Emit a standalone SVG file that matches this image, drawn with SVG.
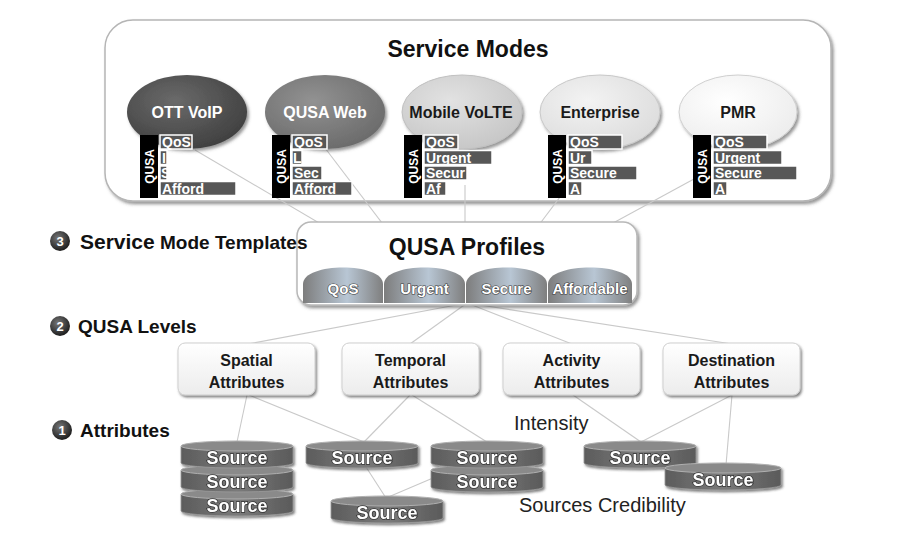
<svg xmlns="http://www.w3.org/2000/svg" width="906" height="560" viewBox="0 0 906 560">
<defs>
  <filter id="sh" x="-10%" y="-10%" width="125%" height="135%">
    <feDropShadow dx="2" dy="2.5" stdDeviation="1.5" flood-color="#444" flood-opacity="0.55"/>
  </filter>
  <filter id="shs" x="-10%" y="-20%" width="125%" height="150%">
    <feDropShadow dx="1.5" dy="2" stdDeviation="1.2" flood-color="#333" flood-opacity="0.6"/>
  </filter>
  <radialGradient id="e1" cx="40%" cy="35%" r="70%"><stop offset="0" stop-color="#6a6a6a"/><stop offset="1" stop-color="#3f3f3f"/></radialGradient>
  <radialGradient id="e2" cx="40%" cy="35%" r="70%"><stop offset="0" stop-color="#929292"/><stop offset="1" stop-color="#6a6a6a"/></radialGradient>
  <radialGradient id="e3" cx="40%" cy="35%" r="70%"><stop offset="0" stop-color="#e2e2e2"/><stop offset="1" stop-color="#c6c6c6"/></radialGradient>
  <radialGradient id="e4" cx="40%" cy="35%" r="70%"><stop offset="0" stop-color="#f3f3f3"/><stop offset="1" stop-color="#dcdcdc"/></radialGradient>
  <radialGradient id="e5" cx="40%" cy="35%" r="70%"><stop offset="0" stop-color="#ffffff"/><stop offset="1" stop-color="#ececec"/></radialGradient>
  <linearGradient id="tab" x1="0" y1="0" x2="1" y2="0"><stop offset="0" stop-color="#7d7d7d"/><stop offset="0.55" stop-color="#b8c6d4"/><stop offset="1" stop-color="#7f7f7f"/></linearGradient>
  <linearGradient id="attr" x1="0" y1="0" x2="0" y2="1"><stop offset="0" stop-color="#ffffff"/><stop offset="1" stop-color="#ececec"/></linearGradient>
  <linearGradient id="disk" x1="0" y1="0" x2="1" y2="0"><stop offset="0" stop-color="#5c5c5c"/><stop offset="0.5" stop-color="#7a7a7a"/><stop offset="1" stop-color="#5a5a5a"/></linearGradient>
  <radialGradient id="ball" cx="40%" cy="35%" r="65%"><stop offset="0" stop-color="#777"/><stop offset="1" stop-color="#1e1e1e"/></radialGradient>
  <g id="cyl">
    <path d="M0,5 V22 A56,5 0 0 0 112,22 V5 Z" fill="url(#disk)" stroke="#9a9a9a" stroke-width="0.8"/>
    <ellipse cx="56" cy="5" rx="56" ry="5" fill="#8a8a8a" stroke="#b0b0b0" stroke-width="1"/>
  </g>
  <g id="cylw">
    <path d="M0,5 V22 A58,5 0 0 0 116,22 V5 Z" fill="url(#disk)" stroke="#9a9a9a" stroke-width="0.8"/>
    <ellipse cx="58" cy="5" rx="58" ry="5" fill="#8a8a8a" stroke="#b0b0b0" stroke-width="1"/>
  </g>
</defs>
<style>
  text { font-family: "Liberation Sans", Arial, sans-serif; }
  .title { font-size: 23px; font-weight: bold; fill: #111; text-anchor: middle; }
  .ml { font-size: 16px; font-weight: bold; text-anchor: middle; }
  .mlw { fill: #fff; }
  .mld { fill: #1a1a1a; }
  .bar { fill: #575757; stroke: #fff; stroke-width: 1.5; }
  .bt { font-size: 14px; font-weight: bold; fill: #fff; }
  .qusa { font-size: 12px; font-weight: bold; fill: #fff; text-anchor: middle; }
  .tabt { font-size: 15px; font-weight: bold; fill: #fff; stroke: #3c3c3c; stroke-width: 1.2; paint-order: stroke; text-anchor: middle; }
  .at { font-size: 16px; font-weight: bold; fill: #1a1a1a; text-anchor: middle; }
  .src { font-size: 18px; font-weight: bold; fill: #fff; stroke: #333; stroke-width: 1.5; paint-order: stroke; text-anchor: middle; }
  .lvl { font-size: 19px; font-weight: bold; fill: #111; }
  .num { font-size: 13px; font-weight: bold; fill: #fff; text-anchor: middle; }
  .plain { font-size: 20px; fill: #222; }
  .cn line { stroke: #c9c9c9; stroke-width: 1.1; }
</style>
<rect width="906" height="560" fill="#fff"/>

<!-- Service Modes container -->
<g id="service-modes">
  <rect x="105" y="20" width="726" height="181" rx="28" fill="#fff" stroke="#b5b5b5" stroke-width="1.5" filter="url(#sh)"/>
  <text x="468" y="57" class="title">Service Modes</text>
</g>

<!-- connectors -->
<g id="connectors" class="cn">
  <line x1="195" y1="150" x2="433" y2="290"/>
  <line x1="325" y1="148" x2="433" y2="290"/>
  <line x1="465" y1="185" x2="465" y2="290"/>
  <line x1="560" y1="197" x2="490" y2="290"/>
  <line x1="705" y1="173" x2="490" y2="290"/>
  <line x1="467" y1="303" x2="248" y2="344"/>
  <line x1="467" y1="303" x2="410" y2="344"/>
  <line x1="467" y1="303" x2="572" y2="344"/>
  <line x1="467" y1="303" x2="732" y2="344"/>
  <line x1="247" y1="395" x2="237" y2="442"/>
  <line x1="249" y1="395" x2="364" y2="442"/>
  <line x1="410" y1="395" x2="364" y2="442"/>
  <line x1="412" y1="395" x2="487" y2="442"/>
  <line x1="573" y1="395" x2="641" y2="442"/>
  <line x1="732" y1="395" x2="641" y2="442"/>
  <line x1="732" y1="395" x2="726" y2="465"/>
  <line x1="366" y1="467" x2="386" y2="498"/>
  <line x1="433" y1="478" x2="386" y2="498"/>
</g>

<!-- Mode nodes -->
<g id="mode-ott-voip">
  <ellipse cx="187" cy="112" rx="60" ry="37" fill="url(#e1)" filter="url(#sh)"/>
  <text x="187" y="118" class="ml mlw">OTT VoIP</text>
  <rect x="140" y="135" width="18" height="63" fill="#000"/>
  <text transform="translate(153.5,166.5) rotate(-90)" class="qusa">QUSA</text>
  <rect x="160" y="135" width="32" height="14" class="bar"/><text x="162" y="147" class="bt">QoS</text>
  <rect x="160" y="150.5" width="7" height="14" class="bar"/><text x="162" y="162.5" class="bt">I</text>
  <rect x="160" y="166" width="7" height="14" class="bar"/><text x="161" y="178" class="bt">S</text>
  <rect x="160" y="181.5" width="76" height="14" class="bar"/><text x="162" y="193.5" class="bt">Afford</text>
</g>
<g id="mode-qusa-web">
  <ellipse cx="325" cy="112" rx="60" ry="37" fill="url(#e2)" filter="url(#sh)"/>
  <text x="325" y="118" class="ml mlw">QUSA Web</text>
  <rect x="272" y="135" width="18" height="63" fill="#000"/>
  <text transform="translate(285.5,166.5) rotate(-90)" class="qusa">QUSA</text>
  <rect x="292" y="135" width="35" height="14" class="bar"/><text x="294" y="147" class="bt">QoS</text>
  <rect x="292" y="150.5" width="10" height="14" class="bar"/><text x="293" y="162.5" class="bt">L</text>
  <rect x="292" y="166" width="30" height="14" class="bar"/><text x="294" y="178" class="bt">Sec</text>
  <rect x="292" y="181.5" width="60" height="14" class="bar"/><text x="294" y="193.5" class="bt">Afford</text>
</g>
<g id="mode-mobile-volte">
  <ellipse cx="462" cy="112" rx="60" ry="37" fill="url(#e3)" stroke="#c0c0c0" stroke-width="1" filter="url(#sh)"/>
  <text x="461" y="118" class="ml mld">Mobile VoLTE</text>
  <rect x="404" y="135" width="18" height="63" fill="#000"/>
  <text transform="translate(417.5,166.5) rotate(-90)" class="qusa">QUSA</text>
  <rect x="424" y="135" width="34" height="14" class="bar"/><text x="426" y="147" class="bt">QoS</text>
  <rect x="424" y="150.5" width="68" height="14" class="bar"/><text x="426" y="162.5" class="bt">Urgent</text>
  <rect x="424" y="166" width="43" height="14" class="bar"/><text x="426" y="178" class="bt">Secur</text>
  <rect x="424" y="181.5" width="22" height="14" class="bar"/><text x="426" y="193.5" class="bt">Af</text>
</g>
<g id="mode-enterprise">
  <ellipse cx="600" cy="112" rx="60" ry="37" fill="url(#e4)" stroke="#c8c8c8" stroke-width="1" filter="url(#sh)"/>
  <text x="600" y="118" class="ml mld">Enterprise</text>
  <rect x="548" y="135" width="18" height="63" fill="#000"/>
  <text transform="translate(561.5,166.5) rotate(-90)" class="qusa">QUSA</text>
  <rect x="568" y="135" width="54" height="14" class="bar"/><text x="570" y="147" class="bt">QoS</text>
  <rect x="568" y="150.5" width="24" height="14" class="bar"/><text x="570" y="162.5" class="bt">Ur</text>
  <rect x="568" y="166" width="69" height="14" class="bar"/><text x="570" y="178" class="bt">Secure</text>
  <rect x="568" y="181.5" width="14" height="14" class="bar"/><text x="570" y="193.5" class="bt">A</text>
</g>
<g id="mode-pmr">
  <ellipse cx="738" cy="112" rx="59" ry="37" fill="url(#e5)" stroke="#cfcfcf" stroke-width="1" filter="url(#sh)"/>
  <text x="738" y="118" class="ml mld">PMR</text>
  <rect x="693" y="135" width="18" height="63" fill="#000"/>
  <text transform="translate(706.5,166.5) rotate(-90)" class="qusa">QUSA</text>
  <rect x="713" y="135" width="54" height="14" class="bar"/><text x="715" y="147" class="bt">QoS</text>
  <rect x="713" y="150.5" width="69" height="14" class="bar"/><text x="715" y="162.5" class="bt">Urgent</text>
  <rect x="713" y="166" width="84" height="14" class="bar"/><text x="715" y="178" class="bt">Secure</text>
  <rect x="713" y="181.5" width="14" height="14" class="bar"/><text x="715" y="193.5" class="bt">A</text>
</g>

<!-- QUSA Profiles -->
<g id="qusa-profiles">
  <rect x="297" y="222" width="340" height="83" rx="14" fill="#fff" stroke="#b8b8b8" stroke-width="1.5" filter="url(#sh)"/>
  <text x="467" y="255" class="title">QUSA Profiles</text>
  <path d="M303,303 V284 C303,262 383,262 383,284 V303 Z" fill="url(#tab)"/>
  <path d="M384,303 V284 C384,262 465,262 465,284 V303 Z" fill="url(#tab)"/>
  <path d="M466,303 V284 C466,262 547,262 547,284 V303 Z" fill="url(#tab)"/>
  <path d="M548,303 V284 C548,262 632,262 632,284 V303 Z" fill="url(#tab)"/>
  <text x="343" y="294" class="tabt">QoS</text>
  <text x="424.5" y="294" class="tabt">Urgent</text>
  <text x="506.5" y="294" class="tabt">Secure</text>
  <text x="590" y="294" class="tabt">Affordable</text>
</g>

<!-- Level labels -->
<g id="label-3">
  <circle cx="60" cy="241" r="10" fill="url(#ball)"/>
  <text x="60" y="246" class="num">3</text>
  <text x="80" y="249" class="lvl"><tspan font-size="21">Service</tspan> Mode Templates</text>
</g>
<g id="label-2">
  <circle cx="60" cy="326" r="10" fill="url(#ball)"/>
  <text x="60" y="331" class="num">2</text>
  <text x="78" y="333" class="lvl" font-size="18">QUSA Levels</text>
</g>
<g id="label-1">
  <circle cx="62" cy="430" r="10" fill="url(#ball)"/>
  <text x="62" y="435" class="num">1</text>
  <text x="80" y="437" class="lvl">Attributes</text>
</g>

<!-- Attribute boxes -->
<g id="attr-spatial">
  <rect x="178" y="343" width="137" height="52" rx="7" fill="url(#attr)" stroke="#cfcfcf" filter="url(#shs)"/>
  <text x="246.5" y="366" class="at">Spatial</text>
  <text x="246.5" y="388" class="at">Attributes</text>
</g>
<g id="attr-temporal">
  <rect x="342" y="343" width="137" height="52" rx="7" fill="url(#attr)" stroke="#cfcfcf" filter="url(#shs)"/>
  <text x="410.5" y="366" class="at">Temporal</text>
  <text x="410.5" y="388" class="at">Attributes</text>
</g>
<g id="attr-activity">
  <rect x="503" y="343" width="137" height="52" rx="7" fill="url(#attr)" stroke="#cfcfcf" filter="url(#shs)"/>
  <text x="571.5" y="366" class="at">Activity</text>
  <text x="571.5" y="388" class="at">Attributes</text>
</g>
<g id="attr-destination">
  <rect x="663" y="343" width="137" height="52" rx="7" fill="url(#attr)" stroke="#cfcfcf" filter="url(#shs)"/>
  <text x="731.5" y="366" class="at">Destination</text>
  <text x="731.5" y="388" class="at">Attributes</text>
</g>

<!-- plain labels -->
<text x="514" y="430" class="plain">Intensity</text>
<text x="519" y="512" class="plain">Sources Credibility</text>

<!-- Sources -->
<g id="source-stack-left" filter="url(#shs)">
  <use href="#cyl" x="181" y="489"/>
  <use href="#cyl" x="181" y="465"/>
  <use href="#cyl" x="181" y="441"/>
  <text x="237" y="464" class="src">Source</text>
  <text x="237" y="488" class="src">Source</text>
  <text x="237" y="512" class="src">Source</text>
</g>
<g id="source-mid" filter="url(#shs)">
  <use href="#cyl" x="306" y="441"/>
  <text x="362" y="464" class="src">Source</text>
</g>
<g id="source-bottom" filter="url(#shs)">
  <use href="#cyl" x="331" y="496"/>
  <text x="387" y="519" class="src">Source</text>
</g>
<g id="source-pair" filter="url(#shs)">
  <use href="#cyl" x="431" y="465"/>
  <use href="#cyl" x="431" y="441"/>
  <text x="487" y="464" class="src">Source</text>
  <text x="487" y="488" class="src">Source</text>
</g>
<g id="source-right" filter="url(#shs)">
  <use href="#cyl" x="584" y="441"/>
  <text x="640" y="464" class="src">Source</text>
</g>
<g id="source-far-right" filter="url(#shs)">
  <use href="#cylw" x="665" y="463"/>
  <text x="723" y="486" class="src">Source</text>
</g>
</svg>
